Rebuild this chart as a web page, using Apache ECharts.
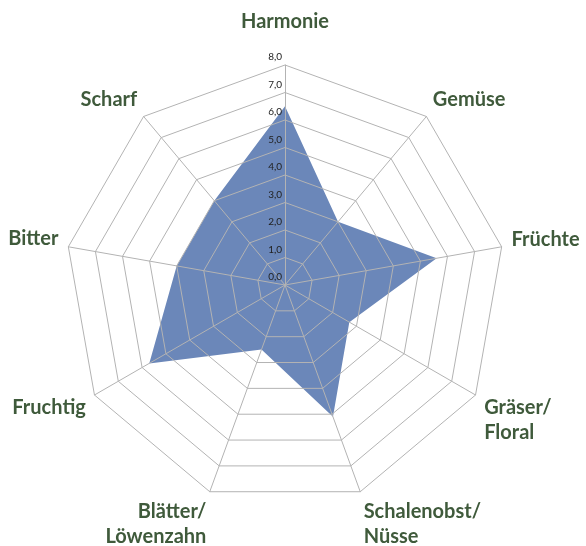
<!DOCTYPE html>
<html>
  <head>
    <meta charset="utf-8" />
    <title>Radar</title>
    <script src="https://cdn.jsdelivr.net/npm/echarts@6/dist/echarts.min.js"></script>
  </head>
  <body style="margin: 0; padding: 0; border: 0">
    <div id="main" style="width: 586px; height: 546px"></div>
    <script type="text/javascript">
      // clockwise from the top
      var categories = [
        "Harmonie",
        "Gemüse",
        "Früchte",
        "Gräser/\nFloral",
        "Schalenobst/\nNüsse",
        "Blätter/\nLöwenzahn",
        "Fruchtig",
        "Bitter",
        "Scharf",
      ];
      var values = [6.5, 3.0, 5.6, 2.7, 5.1, 2.5, 5.7, 4.0, 4.0];
      var maxValue = 8;

      // spacer line to nudge names: >0 spacer above (moves down), <0 below (moves up)
      var nameShift = [-15, -18, -12, 41, 46, 46, 16, -14, -18];

      // echarts goes counter-clockwise, so feed it in reverse after the first
      var order = [0].concat(
        categories
          .map(function (c, i) {
            return i;
          })
          .slice(1)
          .reverse()
      );

      var rich = { t: { lineHeight: 25 } };
      categories.forEach(function (c, i) {
        rich["s" + i] = { lineHeight: Math.abs(nameShift[i]), fontSize: 1 };
      });

      var indicator = order.map(function (i, k) {
        var ind = { name: categories[i], max: maxValue, min: 0 };
        if (k === 0) {
          ind.axisLabel = {
            show: true,
            fontSize: 10,
            color: "#222",
            fontFamily: "Lato",
            margin: 3,
            verticalAlign: "bottom",
            lineHeight: 16,
            formatter: function (v) {
              return v.toFixed(1).replace(".", ",");
            },
          };
        }
        return ind;
      });

      var myChart = echarts.init(document.getElementById("main"));
      myChart.setOption({
        animation: false,
        radar: {
          center: [285, 285],
          radius: 220,
          startAngle: 90,
          splitNumber: 8,
          shape: "polygon",
          z: 5,
          indicator: indicator,
          axisName: {
            color: "#3f5a3b",
            fontFamily: "Lato",
            fontWeight: "bold",
            fontSize: 20,
            lineHeight: 25,
            rich: rich,
            formatter: function (name) {
              var i = categories.indexOf(name);
              var body = name
                .split("\n")
                .map(function (l) {
                  return "{t|" + l + "}";
                })
                .join("\n");
              var sp = "{s" + i + "| }";
              return nameShift[i] > 0 ? sp + "\n" + body : body + "\n" + sp;
            },
          },
          nameGap: 10,
          axisLine: { lineStyle: { color: "#b3b3b3", width: 1 } },
          splitLine: { lineStyle: { color: "#b3b3b3", width: 1 } },
          splitArea: { show: false },
          axisTick: { show: false },
          axisLabel: { show: false },
        },
        series: [
          {
            type: "radar",
            symbol: "none",
            lineStyle: { width: 0 },
            areaStyle: { color: "#6b87b9", opacity: 1 },
            data: [
              {
                value: order.map(function (i) {
                  return values[i];
                }),
              },
            ],
          },
        ],
      });
    </script>
  </body>
</html>
